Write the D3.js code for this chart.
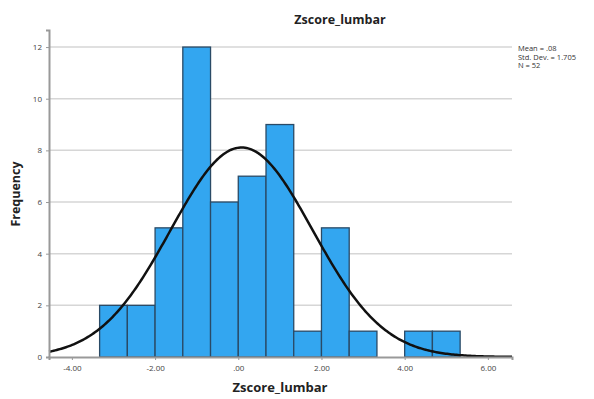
<script src="https://d3js.org/d3.v7.min.js"></script>
<style>
    body { margin: 0; background: #fff; }
    text { font-family: "Open Sans", "DejaVu Sans", sans-serif; }
</style>
<svg id="main_canvas" width=594 height=399></svg>
<script>
    // histogram of Zscore_lumbar with fitted normal curve (SPSS style)
    const binEdges = [-10/3, -8/3, -2, -4/3, -2/3, 0, 2/3, 4/3, 2, 8/3, 10/3, 4, 14/3, 16/3];
    const counts = [2, 2, 5, 12, 6, 7, 9, 1, 5, 1, 0, 1, 1];
    const xTicks = [-4, -2, 0, 2, 4, 6];
    const xTickLabels = ["-4.00", "-2.00", ".00", "2.00", "4.00", "6.00"];
    const yTicks = [0, 2, 4, 6, 8, 10, 12];
    const mean = 0.08, sd = 1.705, n = 52;
    const statLines = ["Mean = .08", "Std. Dev. = 1.705", "N = 52"];

    const margins = { left: 49, right: 82, top: 30, bottom: 42 };
    const W = 594, H = 399;

    const x = d3.scaleLinear()
        .domain([-4.55, 6.58])
        .range([margins.left, W - margins.right]);
    const y = d3.scaleLinear()
        .domain([0, 12.66])
        .range([H - margins.bottom, margins.top]);

    const svg = d3.select("#main_canvas");

    // gridlines
    svg.append("g")
        .selectAll("line")
        .data(yTicks.filter(d => d > 0))
        .join("line")
        .attr("x1", x.range()[0]).attr("x2", x.range()[1])
        .attr("y1", d => y(d)).attr("y2", d => y(d))
        .attr("stroke", "#d6d6d6")
        .attr("stroke-width", 1.5);

    // bars
    const bins = counts.map((c, i) => ({ x0: binEdges[i], x1: binEdges[i + 1], c }));
    svg.append("g")
        .selectAll("rect")
        .data(bins.filter(d => d.c > 0))
        .join("rect")
        .attr("x", d => x(d.x0))
        .attr("width", d => x(d.x1) - x(d.x0))
        .attr("y", d => y(d.c))
        .attr("height", d => y(0) - y(d.c))
        .attr("fill", "#33a6f0")
        .attr("stroke", "#2a4a66")
        .attr("stroke-width", 1.3);

    // normal curve
    const bw = binEdges[1] - binEdges[0];
    const normal = v => n * bw / (sd * Math.sqrt(2 * Math.PI)) * Math.exp(-0.5 * ((v - mean) / sd) ** 2);
    const pts = d3.range(0, 301).map(i => {
        const v = x.domain()[0] + (x.domain()[1] - x.domain()[0]) * i / 300;
        return [v, normal(v)];
    });
    svg.append("path")
        .datum(pts)
        .attr("fill", "none")
        .attr("stroke", "#111")
        .attr("stroke-width", 2.5)
        .attr("d", d3.line().x(d => x(d[0])).y(d => y(d[1])));

    // axes
    const yAxis = svg.append("g")
        .attr("transform", `translate(${margins.left},0)`)
        .call(d3.axisLeft(y).tickValues(yTicks).tickSize(3).tickFormat(d3.format("d")));
    const xAxis = svg.append("g")
        .attr("transform", `translate(0,${y(0)})`)
        .call(d3.axisBottom(x).tickValues(xTicks).tickSize(3).tickFormat((d, i) => xTickLabels[i]));

    [xAxis, yAxis].forEach(g => {
        g.select(".domain").attr("stroke", "#999").attr("stroke-width", 2);
        g.selectAll(".tick line").attr("stroke", "#999");
        g.selectAll(".tick text").attr("fill", "#444").style("font-size", "8px");
    });
    xAxis.selectAll(".tick text").attr("dy", "1em");
    yAxis.selectAll(".tick text").attr("dx", "-1px");

    // titles
    svg.append("text")
        .attr("x", 340).attr("y", 24)
        .attr("text-anchor", "middle")
        .attr("font-weight", "bold")
        .style("font-size", "12.5px")
        .attr("fill", "#222")
        .text("Zscore_lumbar");

    svg.append("text")
        .attr("x", 280).attr("y", 392)
        .attr("text-anchor", "middle")
        .attr("font-weight", "bold")
        .style("font-size", "13px")
        .attr("fill", "#222")
        .text("Zscore_lumbar");

    svg.append("text")
        .attr("transform", "translate(20,194) rotate(-90)")
        .attr("text-anchor", "middle")
        .attr("font-weight", "bold")
        .style("font-size", "12.5px")
        .attr("fill", "#222")
        .text("Frequency");

    // stats box
    svg.append("g")
        .selectAll("text")
        .data(statLines)
        .join("text")
        .attr("x", 518)
        .attr("y", (d, i) => 51 + i * 8.5)
        .style("font-size", "7.5px")
        .attr("fill", "#333")
        .text(d => d);
</script>
